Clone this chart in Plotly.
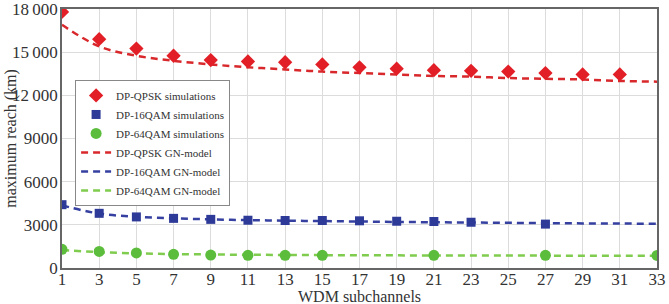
import plotly.graph_objects as go

x_gn = [1, 3, 5, 7, 9, 11, 13, 15, 17, 19, 21, 23, 25, 27, 29, 31, 33]

qpsk_sim_x = [1, 3, 5, 7, 9, 11, 13, 15, 17, 19, 21, 23, 25, 27, 29, 31]
qpsk_sim_y = [17800, 15900, 15250, 14750, 14450, 14350, 14300, 14150, 13950, 13850, 13750, 13700, 13650, 13550, 13450, 13450]
qpsk_gn_y = [16900, 15400, 14750, 14400, 14150, 13950, 13800, 13650, 13550, 13450, 13350, 13300, 13200, 13150, 13100, 13000, 12950]

qam16_sim_x = [1, 3, 5, 7, 9, 11, 13, 15, 17, 19, 21, 23, 27]
qam16_sim_y = [4400, 3800, 3550, 3450, 3380, 3320, 3300, 3300, 3280, 3250, 3230, 3180, 3050]
qam16_gn_y = [4350, 3780, 3560, 3450, 3380, 3330, 3290, 3260, 3230, 3200, 3180, 3160, 3140, 3120, 3100, 3090, 3070]

qam64_sim_x = [1, 3, 5, 7, 9, 11, 13, 15, 21, 27, 33]
qam64_sim_y = [1300, 1150, 1050, 950, 900, 880, 880, 880, 880, 880, 870]
qam64_gn_y = [1250, 1100, 1020, 970, 940, 920, 905, 895, 885, 878, 872, 868, 864, 860, 857, 855, 852]

x_ticks = list(range(1, 34, 2))
y_ticks = [0, 3000, 6000, 9000, 12000, 15000, 18000]
y_tick_text = ["0", "3000", "6000", "9000", "12\u2009000", "15\u2009000", "18\u2009000"]

RED = "#e21f26"
BLUE = "#2e3a98"
GREEN = "#5cbd3c"
RED_L = "#d8282c"
BLUE_L = "#3540a0"
GREEN_L = "#80cc4e"
DASH = "7px,5px"

fig = go.Figure()
fig.add_trace(go.Scatter(x=x_gn, y=qpsk_gn_y, mode="lines", name="DP-QPSK GN-model",
                         line=dict(color=RED_L, width=2.5, dash=DASH, shape="spline"), legendrank=4))
fig.add_trace(go.Scatter(x=x_gn, y=qam16_gn_y, mode="lines", name="DP-16QAM GN-model",
                         line=dict(color=BLUE_L, width=2.5, dash=DASH, shape="spline"), legendrank=5))
fig.add_trace(go.Scatter(x=x_gn, y=qam64_gn_y, mode="lines", name="DP-64QAM GN-model",
                         line=dict(color=GREEN_L, width=2.5, dash=DASH, shape="spline"), legendrank=6))
fig.add_trace(go.Scatter(x=qpsk_sim_x, y=qpsk_sim_y, mode="markers", name="DP-QPSK simulations",
                         marker=dict(symbol="diamond", size=11, color=RED), legendrank=1))
fig.add_trace(go.Scatter(x=qam16_sim_x, y=qam16_sim_y, mode="markers", name="DP-16QAM simulations",
                         marker=dict(symbol="square", size=9, color=BLUE), legendrank=2))
fig.add_trace(go.Scatter(x=qam64_sim_x, y=qam64_sim_y, mode="markers", name="DP-64QAM simulations",
                         marker=dict(symbol="circle", size=11, color=GREEN), legendrank=3))

fig.update_layout(
    width=669, height=304,
    margin=dict(l=62, r=12, t=9, b=36, autoexpand=False),
    paper_bgcolor="white", plot_bgcolor="white",
    font=dict(family="Liberation Serif", size=17, color="#333333"),
    legend=dict(x=0.022, y=0.726, xanchor="left", yanchor="top",
                bordercolor="#888888", borderwidth=1, bgcolor="white",
                font=dict(size=11, color="#333333"), tracegroupgap=0,
                itemwidth=30),
    xaxis=dict(range=[1, 33], tickvals=x_ticks, ticktext=[str(v) for v in x_ticks],
               showgrid=True, gridcolor="#dcdcdc", gridwidth=1,
               showline=True, linecolor="#666666", linewidth=1.5, mirror=True,
               ticks="", ticklen=0, zeroline=False, automargin=False,
               ticklabeloverflow="allow", ticklabelstandoff=-5,
               tickfont=dict(size=17)),
    yaxis=dict(range=[0, 18000], tickvals=y_ticks, ticktext=y_tick_text,
               showgrid=True, gridcolor="#dcdcdc", gridwidth=1,
               showline=True, linecolor="#666666", linewidth=1.5, mirror=True,
               ticks="", ticklen=0, zeroline=False, automargin=False,
               ticklabeloverflow="allow", ticklabelstandoff=-1,
               tickfont=dict(size=17)),
    annotations=[
        dict(text="WDM subchannels", xref="paper", yref="paper", x=0.5, y=-0.11,
             xanchor="center", yanchor="middle", showarrow=False, font=dict(size=16)),
        dict(text="maximum reach (km)", xref="paper", yref="paper", x=-0.087, y=0.5,
             xanchor="center", yanchor="middle", textangle=-90, showarrow=False,
             font=dict(size=16)),
    ],
)

fig.write_html("out.html")
